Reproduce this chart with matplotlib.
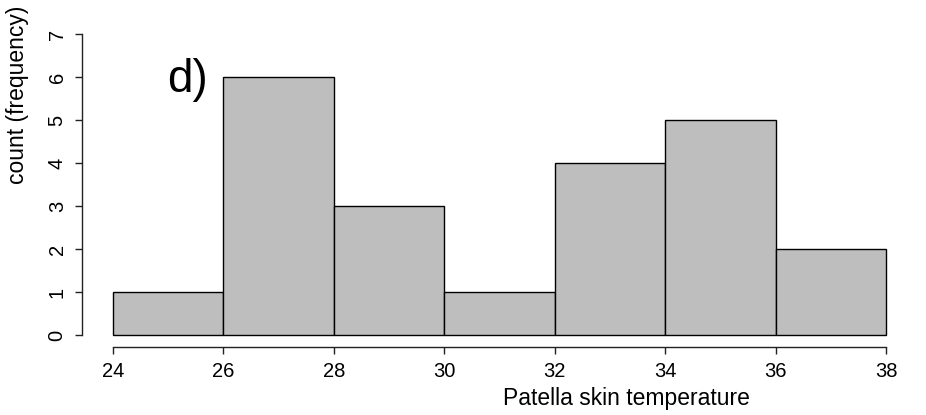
import matplotlib.pyplot as plt

# histogram bins and counts
bin_edges = [24, 26, 28, 30, 32, 34, 36, 38]
counts = [1, 6, 3, 1, 4, 5, 2]
x_ticks = [24, 26, 28, 30, 32, 34, 36, 38]
y_ticks = [0, 1, 2, 3, 4, 5, 6, 7]

plt.rcParams['font.family'] = ['Liberation Sans', 'DejaVu Sans']

W, H = 926, 415
fig = plt.figure(figsize=(W / 100, H / 100), dpi=100)

# plot region in pixels (R-style detached axes)
x0, x1 = 113, 886
y0, y1 = 335, 34
ax = fig.add_axes([x0 / W, (H - y0) / H, (x1 - x0) / W, (y0 - y1) / H])

widths = [bin_edges[i + 1] - bin_edges[i] for i in range(len(counts))]
ax.bar(bin_edges[:-1], counts, width=widths, align='edge',
       color='#BEBEBE', edgecolor='black', linewidth=1, clip_on=False)

ax.set_xlim(24, 38)
ax.set_ylim(0, 7)

for s in ['top', 'right']:
    ax.spines[s].set_visible(False)
ax.spines['left'].set_position(('outward', 31 * 0.72))
ax.spines['bottom'].set_position(('outward', 12 * 0.72))
ax.spines['left'].set_bounds(0, 7)
ax.spines['bottom'].set_bounds(24, 38)
for s in ['left', 'bottom']:
    ax.spines[s].set_linewidth(1)
    ax.spines[s].set_color('#222222')

ax.set_xticks(x_ticks)
ax.set_yticks(y_ticks)
ax.tick_params(axis='both', direction='out', length=5, width=1, color='#222222',
               labelsize=14.5, pad=6)
for lab in ax.get_yticklabels():
    lab.set_rotation(90)
    lab.set_va('center')

fig.text(626 / W, 1 - 398 / H, 'Patella skin temperature', ha='center', va='center', fontsize=16.5)
fig.text(18 / W, 1 - 95 / H, 'count (frequency)', ha='center', va='center',
         rotation=90, fontsize=16.5)
ax.text(24.98, 5.93, 'd)', fontsize=33, ha='left', va='center')

fig.savefig('out.png', dpi=100)
